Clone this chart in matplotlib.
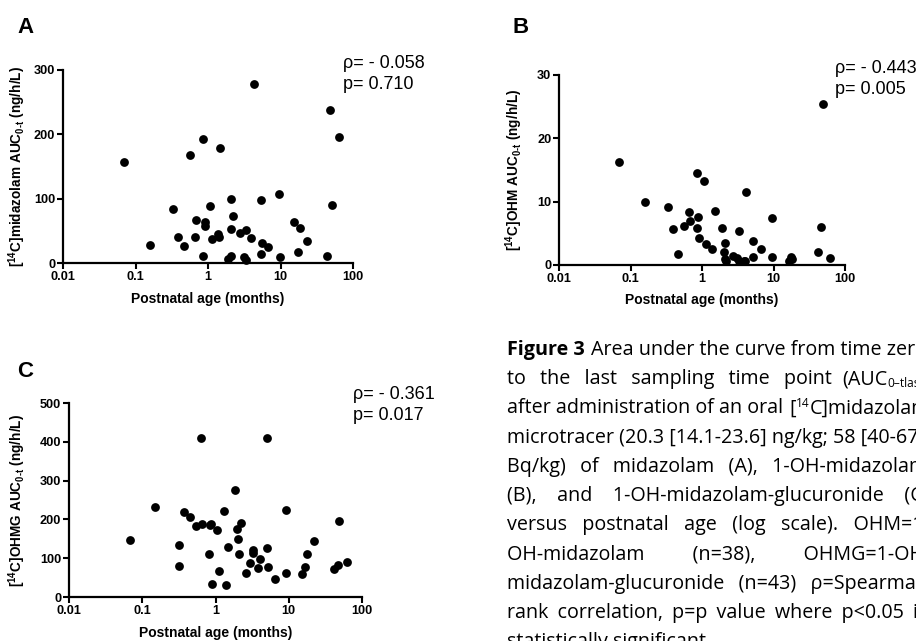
import matplotlib
matplotlib.use('Agg')
import matplotlib.pyplot as plt
from matplotlib.ticker import NullLocator

plt.rcParams['font.family'] = ['Liberation Sans', 'DejaVu Sans']
plt.rcParams['mathtext.fontset'] = 'custom'
plt.rcParams['mathtext.rm'] = 'Liberation Sans:bold'
plt.rcParams['mathtext.bf'] = 'Liberation Sans:bold'
plt.rcParams['mathtext.it'] = 'Liberation Sans:bold'
plt.rcParams['mathtext.default'] = 'bf'

# ---- data (postnatal age in months, AUC in ng/h/L) ----
age_a = [0.069, 0.16, 0.33, 0.39, 0.46, 0.56, 0.66, 0.69, 0.85, 0.85, 0.90, 0.92, 1.08, 1.15,
         1.37, 1.44, 1.48, 1.9, 2.06, 2.1, 2.1, 2.2, 2.74, 3.1, 3.3, 3.3, 3.96, 4.26, 5.3, 5.3,
         5.5, 6.8, 9.5, 9.8, 15.5, 17.4, 18.5, 23, 43.7, 48, 50.8, 64]
auc_a = [157, 28, 84, 40, 27, 168, 40, 67, 193, 11, 63, 58, 88, 37, 45, 40, 179, 6, 53, 99,
         11, 73, 47, 9, 51, 4, 39, 278, 98, 14, 31, 25, 107, 9, 63, 17, 55, 34, 11, 238, 90, 196]

age_b = [0.07, 0.16, 0.33, 0.39, 0.46, 0.56, 0.65, 0.69, 0.85, 0.86, 0.89, 0.91, 1.08, 1.14,
         1.39, 1.51, 1.9, 2.04, 2.10, 2.13, 2.2, 2.73, 3.1, 3.3, 3.3, 3.81, 3.95, 4.1, 5.15, 5.15,
         6.6, 9.4, 9.6, 16.6, 17.8, 18.4, 42.4, 46.0, 49.8, 61.7]
auc_b = [16.2, 9.9, 9.2, 5.7, 1.8, 6.2, 8.4, 6.9, 14.5, 5.9, 7.6, 4.2, 13.3, 3.3, 2.6, 8.6,
         5.9, 2.0, 3.5, 0.9, 0.7, 1.4, 1.05, 5.3, 0.6, 0.7, 0.6, 11.6, 3.8, 1.3, 2.5, 7.4, 1.3,
         0.7, 1.3, 1.0, 2.1, 6.0, 25.4, 1.05]

age_c = [0.068, 0.15, 0.32, 0.32, 0.37, 0.45, 0.54, 0.63, 0.65, 0.82, 0.86, 0.83, 0.89, 1.05,
         1.11, 1.32, 1.4, 1.47, 1.85, 1.99, 2.05, 2.08, 2.22, 2.64, 2.98, 3.2, 3.2, 3.82, 4.06,
         5.07, 5.07, 5.27, 6.52, 9.2, 9.2, 15.1, 16.5, 17.7, 22.3, 41.4, 46.5, 49, 62.4]
auc_c = [146, 233, 134, 80, 218, 207, 182, 409, 187, 111, 189, 185, 34, 173, 68, 222, 30, 128,
         277, 176, 150, 112, 192, 62, 87, 120, 113, 74, 98, 409, 126, 77, 46, 62, 225, 58, 77,
         112, 145, 71, 82, 195, 90]

x_ticks = [0.01, 0.1, 1, 10, 100]
x_tick_labels = ['0.01', '0.1', '1', '10', '100']
yticks_a = [0, 100, 200, 300]
yticks_b = [0, 10, 20, 30]
yticks_c = [0, 100, 200, 300, 400, 500]

ylabel_a = r'[$^{14}$C]midazolam AUC$_{0\text{-}t}$ (ng/h/L)'
ylabel_b = r'[$^{14}$C]OHM AUC$_{0\text{-}t}$ (ng/h/L)'
ylabel_c = r'[$^{14}$C]OHMG AUC$_{0\text{-}t}$ (ng/h/L)'
stats_a = ['ρ= - 0.058', 'p= 0.710']
stats_b = ['ρ= - 0.443', 'p= 0.005']
stats_c = ['ρ= - 0.361', 'p= 0.017']

W, H = 916, 641
fig = plt.figure(figsize=(W / 100, H / 100), dpi=100)


def px_axes(left, top, right, bottom):
    return fig.add_axes([left / W, 1 - bottom / H, (right - left) / W, (bottom - top) / H])


def panel(ax, x, y, yticks, ylabel, ylab_x):
    ax.scatter(x, y, s=40, color='black', zorder=3, clip_on=False, linewidths=0)
    ax.set_xscale('log')
    ax.set_xlim(0.01, 100)
    ax.set_ylim(yticks[0], yticks[-1])
    ax.set_xticks(x_ticks, x_tick_labels, fontweight='bold', fontsize=9.2)
    ax.xaxis.set_minor_locator(NullLocator())
    ax.set_yticks(yticks, [str(t) for t in yticks], fontweight='bold', fontsize=9.2)
    for s in ['top', 'right']:
        ax.spines[s].set_visible(False)
    for s in ['left', 'bottom']:
        ax.spines[s].set_linewidth(1.6)
    ax.tick_params(direction='out', length=4, width=1.5, pad=1.5)
    ax.set_xlabel('Postnatal age (months)', fontweight='bold', fontsize=10)
    ax.xaxis.set_label_coords(0.5, -0.15)
    ax.set_ylabel(ylabel, fontweight='bold', fontsize=9.8)
    ax.yaxis.set_label_coords(ylab_x, 0.5)


ax_a = px_axes(63, 70, 353, 263)
panel(ax_a, age_a, auc_a, yticks_a, ylabel_a, -0.12)
ax_b = px_axes(559, 75, 845, 265)
panel(ax_b, age_b, auc_b, yticks_b, ylabel_b, -0.119)
ax_c = px_axes(69, 403, 362, 597)
panel(ax_c, age_c, auc_c, yticks_c, ylabel_c, -0.14)

# panel letters and statistics
for lab, xp, yp in [('A', 17, 33), ('B', 513, 33), ('C', 17, 377)]:
    fig.text(xp / W, 1 - yp / H, lab, fontsize=16, fontweight='bold', va='baseline')
for lines, xp, yp in [(stats_a, 343, 68), (stats_b, 835, 73), (stats_c, 353, 399)]:
    for k, line in enumerate(lines):
        fig.text(xp / W, 1 - (yp + 21 * k) / H, line, fontsize=13, va='baseline')

# ---- caption, justified ----
cap_font = ['Open Sans', 'DejaVu Sans']
# each word: list of (text, bold, small, dy in px)
caption = [
    [[('Figure', 1, 0, 0)], [('3', 1, 0, 0)]]
    + [[(w, 0, 0, 0)] for w in 'Area under the curve from time zero'.split()],
    [[(w, 0, 0, 0)] for w in 'to the last sampling time point'.split()]
    + [[('(AUC', 0, 0, 0), ('0\u2013tlast', 0, 1, -3), (')', 0, 0, 0)]],
    [[(w, 0, 0, 0)] for w in 'after administration of an oral'.split()]
    + [[('[', 0, 0, 0), ('14', 0, 1, 6), ('C]midazolam', 0, 0, 0)]],
    [[(w, 0, 0, 0)] for w in 'microtracer (20.3 [14.1-23.6] ng/kg; 58 [40-67]'.split()],
    [[(w, 0, 0, 0)] for w in 'Bq/kg) of midazolam (A), 1-OH-midazolam'.split()],
    [[(w, 0, 0, 0)] for w in '(B), and 1-OH-midazolam-glucuronide (C)'.split()],
    [[(w, 0, 0, 0)] for w in 'versus postnatal age (log scale). OHM=1-'.split()],
    [[(w, 0, 0, 0)] for w in 'OH-midazolam (n=38), OHMG=1-OH-'.split()],
    [[(w, 0, 0, 0)] for w in 'midazolam-glucuronide (n=43) ρ=Spearman'.split()],
    [[(w, 0, 0, 0)] for w in 'rank correlation, p=p value where p<0.05 is'.split()],
    [[(w, 0, 0, 0)] for w in 'statistically significant.'.split()],
]
cap_x0, cap_x1 = 507, 930
cap_base0, cap_step = 355, 29.2

renderer = fig.canvas.get_renderer()


def seg_text(x, y, txt, bold, small, dy, size):
    return fig.text(x / W, 1 - (y - dy) / H, txt, family=cap_font,
                    fontsize=size * (0.6 if small else 1.0),
                    fontweight='bold' if bold else 'normal', va='baseline')


def text_width(txt, bold, small, size):
    t = seg_text(0, 0, txt, bold, small, 0, size)
    w = t.get_window_extent(renderer).width
    t.remove()
    return w


def word_width(word, size):
    return sum(text_width(s[0], s[1], s[2], size) for s in word)


def char_width(ch, size):
    return (text_width('a' + ch * 10 + 'a', 0, 0, size) - text_width('aa', 0, 0, size)) / 10


def line_width(line, size):
    return sum(word_width(w, size) for w in line) + char_width(' ', size) * (len(line) - 1)


# pick the caption size so the third line fills the column with normal spacing
cap_size = 10 * 423 / line_width(caption[2], 10)
sp_w = char_width(' ', cap_size)
hair_w = char_width('\u200a', cap_size)


def filler(gap):
    n = max(1, int(gap // sp_w))
    m = int(round((gap - n * sp_w) / hair_w)) if hair_w > 0 else 0
    return ' ' * n + '\u200a' * max(m, 0)


for i, line in enumerate(caption):
    y = cap_base0 + i * cap_step
    widths = [word_width(w, cap_size) for w in line]
    if i < len(caption) - 1:
        gap = (cap_x1 - cap_x0 - sum(widths)) / (len(line) - 1)
    else:
        gap = sp_w
    # runs of plain words go into one string, so they share one baseline
    x = cap_x0
    run, run_x, run_bold = '', cap_x0, None
    for j, (word, ww) in enumerate(zip(line, widths)):
        plain = len(word) == 1
        if plain and (run_bold is None or word[0][1] == run_bold):
            if run == '':
                run_x = x
                run_bold = word[0][1]
            run += word[0][0]
            if j < len(line) - 1:
                run += filler(gap)
        else:
            if run:
                seg_text(run_x, y, run.rstrip(' \u200a'), run_bold, 0, 0, cap_size)
                run, run_bold = '', None
            if plain:
                run_x, run_bold = x, word[0][1]
                run = word[0][0] + (filler(gap) if j < len(line) - 1 else '')
            else:
                xs = x
                for s in word:
                    seg_text(xs, y, s[0], s[1], s[2], s[3], cap_size)
                    xs += text_width(s[0], s[1], s[2], cap_size)
        x += ww + gap
    if run:
        seg_text(run_x, y, run.rstrip(' \u200a'), run_bold, 0, 0, cap_size)

fig.savefig('out.png', dpi=100)
